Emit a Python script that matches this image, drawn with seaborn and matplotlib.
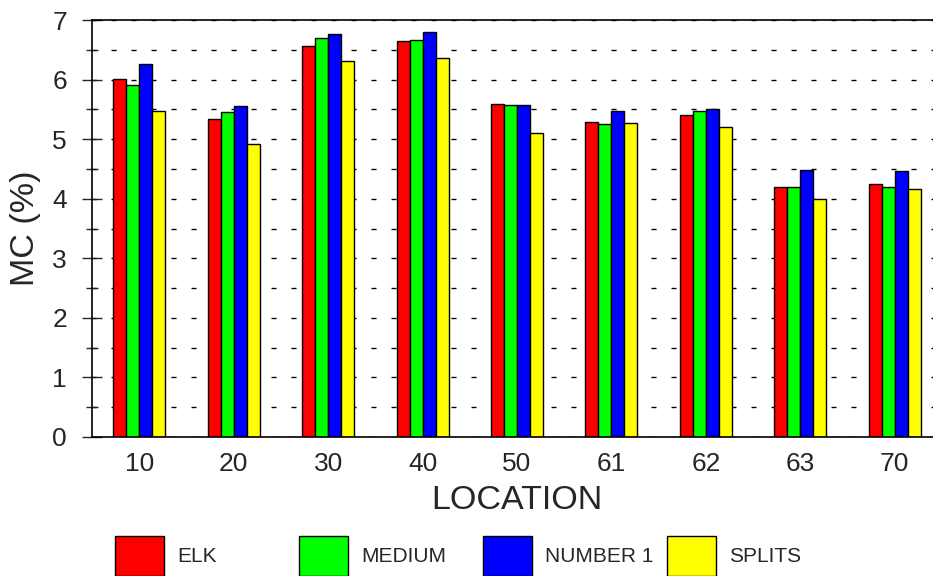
import matplotlib
matplotlib.use("Agg")
import matplotlib.pyplot as plt
import matplotlib.patches as mpatches
from matplotlib.ticker import MultipleLocator
import seaborn as sns
import pandas as pd

locations = ["10", "20", "30", "40", "50", "61", "62", "63", "70"]
series_names = ["ELK", "MEDIUM", "NUMBER 1", "SPLITS"]
elk = [6.01, 5.34, 6.56, 6.65, 5.59, 5.28, 5.41, 4.19, 4.25]
medium = [5.91, 5.45, 6.69, 6.66, 5.57, 5.25, 5.48, 4.19, 4.19]
number1 = [6.26, 5.56, 6.76, 6.80, 5.58, 5.48, 5.51, 4.49, 4.46]
splits = [5.47, 4.92, 6.32, 6.36, 5.10, 5.27, 5.21, 4.00, 4.16]
colors = ["#FF0000", "#00FF00", "#0000FF", "#FFFF00"]

rows = []
for name, vals in zip(series_names, [elk, medium, number1, splits]):
    for loc, v in zip(locations, vals):
        rows.append({"LOCATION": loc, "MC": v, "series": name})
df = pd.DataFrame(rows)

sns.set_style("ticks")
plt.rcParams["font.family"] = ["Liberation Sans", "DejaVu Sans"]
plt.rcParams["lines.scale_dashes"] = False

fig = plt.figure(figsize=(9.33, 5.76), dpi=100)
ax = fig.add_axes([92 / 933, 139 / 576, 850 / 933, 417 / 576])

sns.barplot(data=df, x="LOCATION", y="MC", hue="series", order=locations,
            hue_order=series_names, palette=colors, width=0.55, dodge=True,
            edgecolor="black", linewidth=1.0, errorbar=None, legend=False,
            saturation=1, ax=ax)

ax.set_xlim(-0.5, 8.5)
ax.set_ylim(0, 7)
ax.yaxis.set_major_locator(MultipleLocator(1))
ax.yaxis.set_minor_locator(MultipleLocator(0.5))
ax.set_axisbelow(True)
ax.grid(True, which="both", axis="y", color="black", linewidth=1.0,
        linestyle=(0.7, (3.6, 10.8)))
ax.grid(False, axis="x")

for s in ["top", "left", "bottom", "right"]:
    ax.spines[s].set_visible(True)
    ax.spines[s].set_color("black")
    ax.spines[s].set_linewidth(1.2)

ax.tick_params(axis="x", length=0, pad=11, labelsize=19)
ax.tick_params(axis="y", which="major", direction="inout", length=14, width=1,
               pad=11, labelsize=19)
ax.tick_params(axis="y", which="minor", direction="inout", length=8, width=1)

ax.set_xlabel("LOCATION", fontsize=24.5, labelpad=6)
ax.set_ylabel("MC (%)", fontsize=24.5, labelpad=8)

legend_x = [115, 299, 483, 667]
for name, col, lx in zip(series_names, colors, legend_x):
    h = mpatches.Patch(facecolor=col, edgecolor="black", linewidth=1.0)
    leg = fig.legend(handles=[h], labels=[name], loc="center left",
                     bbox_to_anchor=(lx / 933, 20 / 576), frameon=False,
                     fontsize=15, borderpad=0, borderaxespad=0,
                     handlelength=2.35, handleheight=2.6, handletextpad=0.62)

fig.savefig("out.png", dpi=100)
